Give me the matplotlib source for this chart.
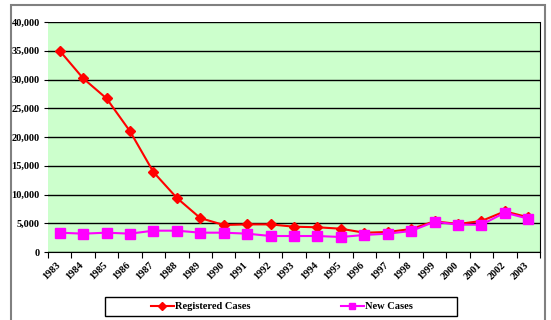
import matplotlib.pyplot as plt
from matplotlib.patches import Rectangle
from matplotlib.ticker import FuncFormatter, MultipleLocator
import numpy as np

# Yearly case counts
years = [str(y) for y in range(1983, 2004)]
registered = [35000, 30200, 26700, 21000, 13900, 9400, 5900, 4700, 4800, 4800,
              4400, 4300, 4050, 3350, 3480, 4000, 5340, 4870, 5390, 7070, 6030]
new_cases = [3360, 3190, 3360, 3190, 3710, 3710, 3360, 3360, 3190, 2780,
             2780, 2780, 2610, 2960, 3190, 3650, 5270, 4750, 4750, 6840, 5800]

plt.rcParams['font.family'] = ['Liberation Serif', 'DejaVu Serif']
plt.rcParams['font.weight'] = 'bold'

W, H = 551, 320
fig = plt.figure(figsize=(W / 100, H / 100), dpi=100)
# chart area border
fig.patches.append(Rectangle((11 / W, -0.01), 534 / W, 1 - 5 / H + 0.01,
                             transform=fig.transFigure, fill=False,
                             edgecolor='#808080', linewidth=1.5))

ax = fig.add_axes([48 / W, 1 - 252 / H, 492 / W, 230 / H])
ax.set_facecolor('#ccffcc')

x = np.arange(len(years)) + 0.5
l1, = ax.plot(x, registered, color='#ff0000', marker='D', markersize=5.5,
              linewidth=1.5, label='Registered Cases')
l2, = ax.plot(x, new_cases, color='#ff00ff', marker='s', markersize=6.5,
              linewidth=1.5, label='New Cases')

ax.set_xlim(0, len(years))
ax.set_ylim(0, 40000)
ax.yaxis.set_major_locator(MultipleLocator(5000))
ax.yaxis.set_major_formatter(FuncFormatter(lambda v, p: f'{int(v):,}'))
ax.grid(axis='y', color='black', linewidth=1)
ax.set_axisbelow(True)

# category ticks between years, year labels slanted under each category
ax.set_xticks(np.arange(len(years) + 1))
ax.set_xticklabels([])
ax.set_xticks(x - 0.17, minor=True)
ax.set_xticklabels(years, minor=True, rotation=45, ha='right', va='top',
                   rotation_mode='anchor', fontsize=7.5, fontweight='bold')
ax.tick_params(axis='x', which='minor', length=0, pad=6)
ax.tick_params(axis='x', which='major', length=4, direction='out')
ax.tick_params(axis='y', length=3, labelsize=7.5, pad=3)

for s in ['top', 'left']:
    ax.spines[s].set_visible(False)
ax.spines['right'].set_color('black')
ax.spines['bottom'].set_color('black')

# legend box with two entries spread across it
fig.patches.append(Rectangle((105 / W, 1 - 316 / H), 352 / W, 19 / H,
                             transform=fig.transFigure, facecolor='white',
                             edgecolor='black', linewidth=1))
for line, cx in [(l1, 201), (l2, 377)]:
    fig.legend(handles=[line], loc='center', bbox_to_anchor=(cx / W, 1 - 306.5 / H),
               frameon=False, fontsize=7.5, handlelength=2.2, handletextpad=0.15,
               markerscale=0.75, borderpad=0)

plt.savefig('out.png', dpi=100)
